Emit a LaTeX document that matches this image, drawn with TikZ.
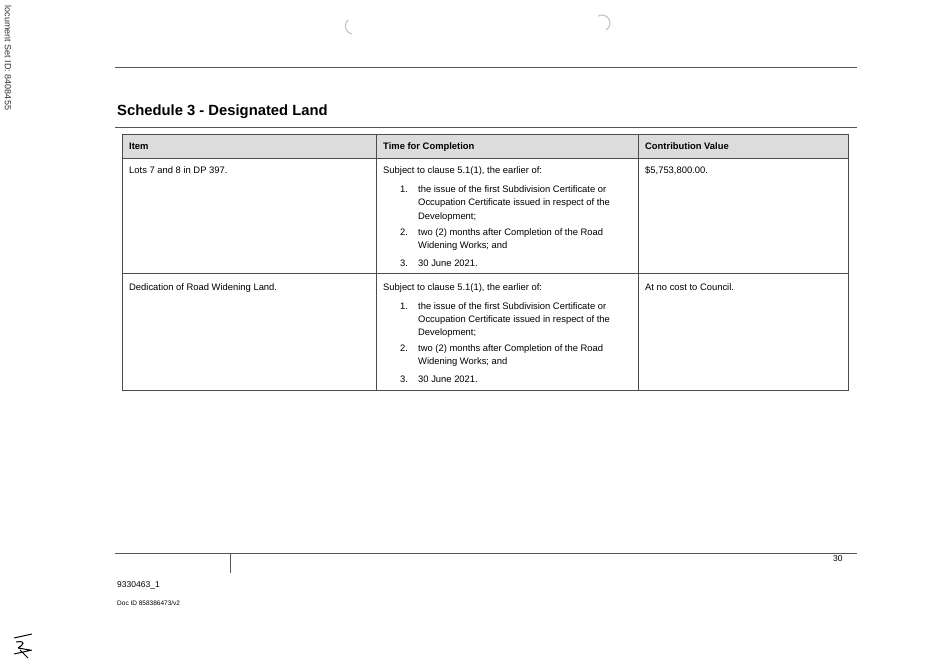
\documentclass[tikz,border=0pt]{standalone}
\usepackage{fontspec}
\setmainfont{Liberation Sans}
\usetikzlibrary{positioning}
\definecolor{RULEGRAY}{HTML}{555555}
\definecolor{HEADGRAY}{HTML}{DCDCDC}
\tikzset{
  cell/.style={anchor=base west, inner sep=0pt, font=\fontsize{9.4}{11}\selectfont},
  rulel/.style={draw=RULEGRAY, line width=0.9pt},
  grid/.style={draw=black!70, line width=0.8pt}
}
\begin{document}
\begin{tikzpicture}[x=1pt,y=-1pt]
  \useasboundingbox[fill=white] (0,0) rectangle (941,660);

  % Side stamp
  \node[rotate=-90, anchor=center, inner sep=0pt, font=\fontsize{9}{10}\selectfont, text=black!80] (stamp) at (8,58) {locument Set ID: 8408455};

  % Punch marks
  \draw[black!25, line width=1pt] (352,34) arc (100:230:8);
  \draw[black!25, line width=1pt] (606,30) arc (60:-120:8);

  % Top rules and title
  \draw[rulel] (115,67) -- (857,67);
  \node[anchor=base west, inner sep=0pt, font=\fontsize{14.8}{17}\selectfont\bfseries] (title) at (117,116) {Schedule 3 - Designated Land};
  \draw[rulel] (115,127) -- (857,127);

  % Table
  \fill[HEADGRAY] (122,134) rectangle (848,158);
  \draw[grid] (122,134) rectangle (848,390);
  \draw[grid] (122,158) -- (848,158);
  \draw[grid] (122,273) -- (848,273);
  \draw[grid] (376,134) -- (376,390);
  \draw[grid] (638,134) -- (638,390);

  \node[cell, font=\fontsize{9.4}{11}\selectfont\bfseries] (hitem) at (129,150) {Item};
  \node[cell, font=\fontsize{9.4}{11}\selectfont\bfseries] (htime) at (383,150) {Time for Completion};
  \node[cell, font=\fontsize{9.4}{11}\selectfont\bfseries] (hval) at (645,150) {Contribution Value};

  % Rows
  \foreach \y/\item/\val [count=\r] in {174/{Lots 7 and 8 in DP 397.}/{\$5,753,800.00.},
                                       290/{Dedication of Road Widening Land.}/{At no cost to Council.}} {
    \node[cell] (item\r) at (129,\y) {\item};
    \node[cell] (val\r) at (645,\y) {\val};
    \node[cell] (subj\r) at (383,\y) {Subject to clause 5.1(1), the earlier of:};
    \node[cell] (na\r) at (400,\y+19) {1.};
    \node[cell] (ta\r) at (418,\y+19) {the issue of the first Subdivision Certificate or};
    \node[cell] (tb\r) at (418,\y+32) {Occupation Certificate issued in respect of the};
    \node[cell] (tc\r) at (418,\y+45) {Development;};
    \node[cell] (nb\r) at (400,\y+61) {2.};
    \node[cell] (td\r) at (418,\y+61) {two (2) months after Completion of the Road};
    \node[cell] (te\r) at (418,\y+74) {Widening Works; and};
    \node[cell] (nc\r) at (400,\y+92) {3.};
    \node[cell] (tf\r) at (418,\y+92) {30 June 2021.};
  }

  % Footer
  \draw[rulel] (115,553) -- (857,553);
  \draw[rulel, line width=0.6pt] (230,553) -- (230,573);
  \node[cell, font=\fontsize{8.5}{10}\selectfont] (page) at (833,561) {30};
  \node[cell, font=\fontsize{8.5}{10}\selectfont] (ref) at (117,587) {9330463\_1};
  \node[cell, font=\fontsize{6.5}{8}\selectfont] (docid) at (117,605) {Doc ID 858386473/v2};

  % Initials
  \draw[line width=1pt] (14,638) -- (32,634) (16,642) .. controls (28,640) and (22,646) .. (18,648)
        (18,648) -- (30,650) (14,654) -- (32,650) (20,650) -- (28,658);
\end{tikzpicture}
\end{document}
